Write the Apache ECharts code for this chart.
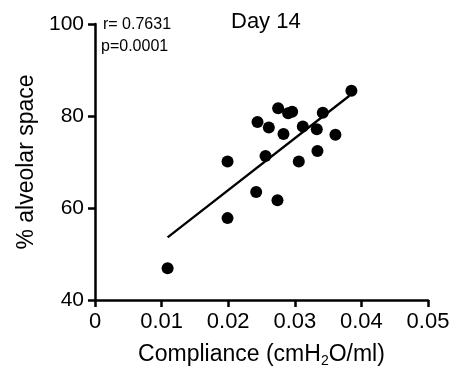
<!DOCTYPE html>
<html><head><meta charset="utf-8">
<script src="https://cdn.jsdelivr.net/npm/echarts@6/dist/echarts.min.js"></script>
<style>html,body{margin:0;padding:0;background:#fff}#c{width:472px;height:375px}</style>
</head><body><div id="c"></div>
<script>
const compliance = [0.0385,0.0275,0.0290,0.0296,0.0342,0.0244,0.0261,0.0283,0.0312,0.0333,0.0361,0.0256,0.0199,0.0306,0.0334,0.0242,0.0274,0.0199,0.0109];
const alveolar   = [85.5,81.7,80.6,80.9,80.7,78.7,77.5,76.1,77.7,77.1,75.9,71.3,70.1,70.1,72.4,63.5,61.7,57.8,46.9];
const fitX = [0.0109, 0.0382];
const fitY = [53.6, 84.4];
const xTicks = [0, 0.01, 0.02, 0.03, 0.04, 0.05];
const yTicks = [40, 60, 80, 100];
const titleText = 'Day 14';
const statR = 'r= 0.7631';
const statP = 'p=0.0001';

const FONT = 'Liberation Sans, Arial, Helvetica, sans-serif';
const chart = echarts.init(document.getElementById('c'));
chart.setOption({
  animation: false,
  backgroundColor: '#fff',
  textStyle: {fontFamily: FONT, color: '#000'},
  title: {text: titleText, left: 226, top: 6, textStyle: {fontFamily: FONT, fontSize: 22, fontWeight: 'normal', color: '#000'}},
  graphic: [
    {type: 'text', left: 103, top: 17, style: {text: statR, font: '16px ' + FONT, fill: '#000'}},
    {type: 'text', left: 101, top: 39, style: {text: statP, font: '16px ' + FONT, fill: '#000'}}
  ],
  grid: {left: 95, right: 44, top: 24, bottom: 75, containLabel: false},
  xAxis: {
    type: 'value', min: xTicks[0], max: xTicks[xTicks.length - 1], interval: 0.01,
    name: 'Compliance (cmH{sub|2}O/ml)', nameLocation: 'middle', nameGap: 42,
    nameTextStyle: {fontFamily: FONT, fontSize: 23, color: '#000', rich: {sub: {fontSize: 14, verticalAlign: 'bottom', padding: [12, 0, 0, 0], fontFamily: FONT, color: '#000'}}},
    axisLine: {lineStyle: {color: '#000', width: 2.5}},
    axisTick: {show: true, length: 7, lineStyle: {color: '#000', width: 2.5}},
    axisLabel: {fontFamily: FONT, fontSize: 22, color: '#000', margin: 11, formatter: v => String(+v.toFixed(2))},
    splitLine: {show: false}
  },
  yAxis: {
    type: 'value', min: yTicks[0], max: yTicks[yTicks.length - 1], interval: 20,
    name: '% alveolar space', nameLocation: 'middle', nameGap: 57,
    nameTextStyle: {fontFamily: FONT, fontSize: 23, color: '#000'},
    axisLine: {lineStyle: {color: '#000', width: 2.5}},
    axisTick: {show: true, length: 7, lineStyle: {color: '#000', width: 2.5}},
    axisLabel: {fontFamily: FONT, fontSize: 21, color: '#000', margin: 11},
    splitLine: {show: false}
  },
  series: [
    {type: 'line', data: fitX.map((x, i) => [x, fitY[i]]), symbol: 'none', lineStyle: {color: '#000', width: 2.3}, z: 3},
    {type: 'scatter', data: compliance.map((x, i) => [x, alveolar[i]]), symbol: 'circle', symbolSize: 12, itemStyle: {color: '#000', opacity: 1}, z: 4}
  ]
});
</script></body></html>
